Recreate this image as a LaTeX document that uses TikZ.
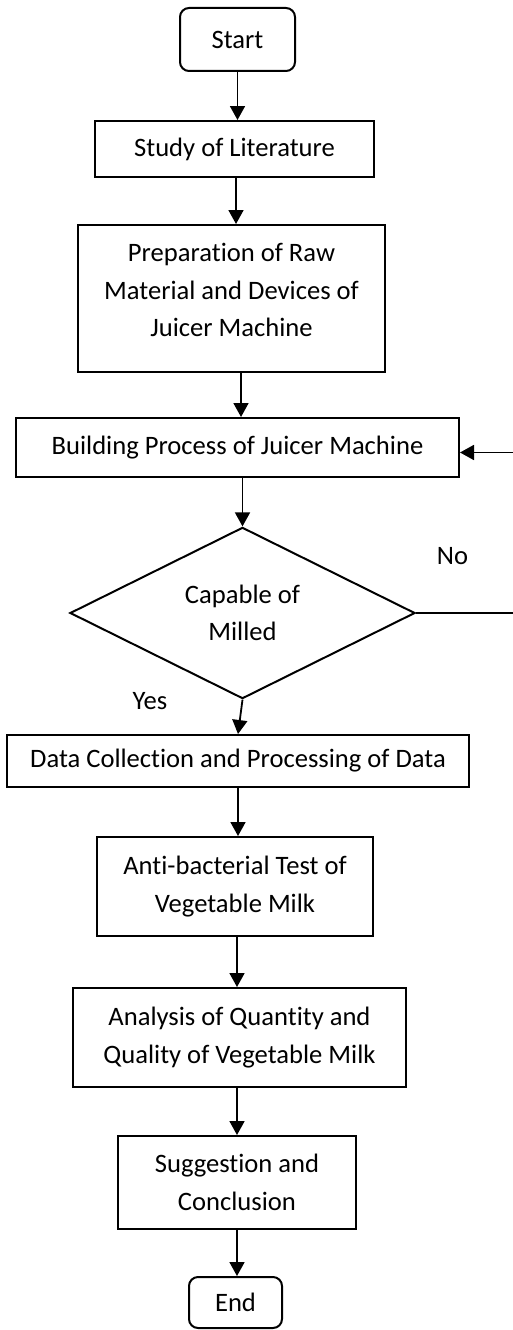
\documentclass[tikz,border=0pt]{standalone}
\usepackage{fontspec}
\setmainfont{Carlito}[Ligatures={NoCommon}]
\usetikzlibrary{shapes.geometric,arrows.meta}
\begin{document}
\begin{tikzpicture}[x=1pt,y=-1pt,
  every node/.style={font=\fontsize{26.6}{37.5}\selectfont,inner sep=0pt},
  box/.style={draw,line width=2pt,rectangle,align=center},
  term/.style={box,rounded corners=9pt},
  decision/.style={draw,line width=2pt,diamond,align=center},
  arr/.style={line width=1.8pt,-{Triangle[length=14pt,width=15pt]}},
  noline/.style={line width=2.7pt},
]
\useasboundingbox (0,0) rectangle (512,1330);

\node[term,minimum width=115pt,minimum height=63pt] (start) at (237.5,39.5) {Start};
\node[box,minimum width=279pt,minimum height=56pt] (study) at (234.5,149) {Study of Literature};
\node[box,minimum width=307pt,minimum height=147pt] (prep) at (231.5,298.5) {};
\node[align=center,anchor=north] (preptext) at (231.5,243) {Preparation of Raw\\Material and Devices of\\Juicer Machine};
\node[box,minimum width=443pt,minimum height=59pt] (build) at (237.5,447.5) {Building Process of Juicer Machine};
\node[decision,minimum width=345pt,minimum height=171pt] (dia) at (242.5,613) {Capable of\\Milled};
\node[box,minimum width=462pt,minimum height=52pt] (data) at (238,761) {Data Collection and Processing of Data};
\node[box,minimum width=276pt,minimum height=99pt] (anti) at (235,886.5) {Anti-bacterial Test of\\Vegetable Milk};
\node[box,minimum width=333pt,minimum height=99pt] (anal) at (239.5,1037.5) {Analysis of Quantity and\\Quality of Vegetable Milk};
\node[box,minimum width=238pt,minimum height=93pt] (sugg) at (237,1182.5) {Suggestion and\\Conclusion};
\node[term,minimum width=93pt,minimum height=51pt] (end) at (235.5,1302.5) {End};

\node (yes) at (150,701.5) {Yes};
\node (no) at (452.5,556.5) {No};

\draw[arr] (start.south) -- (start.south |- study.north);
\draw[arr] ([xshift=1.5pt]study.south) -- ([xshift=1.5pt]study.south |- prep.north);
\draw[arr] ([xshift=9.5pt]prep.south) -- ([xshift=9.5pt]prep.south |- build.north);
\draw[arr] (build.south -| dia.north) -- (dia.north);
\draw[arr] (dia.south) -- (data.north);
\draw[arr] (data.south) -- (data.south |- anti.north);
\draw[arr] ([xshift=2pt]anti.south) -- ([xshift=2pt]anti.south |- anal.north);
\draw[arr] ([xshift=-2.5pt]anal.south) -- ([xshift=-2.5pt]anal.south |- sugg.north);
\draw[arr] (sugg.south) -- (sugg.south |- end.north);

\draw[noline] (dia.east) -- ++(115,0) coordinate (fbcorner);
\draw[arr] (fbcorner) |- ([yshift=-5pt]build.east);
\end{tikzpicture}
\end{document}
